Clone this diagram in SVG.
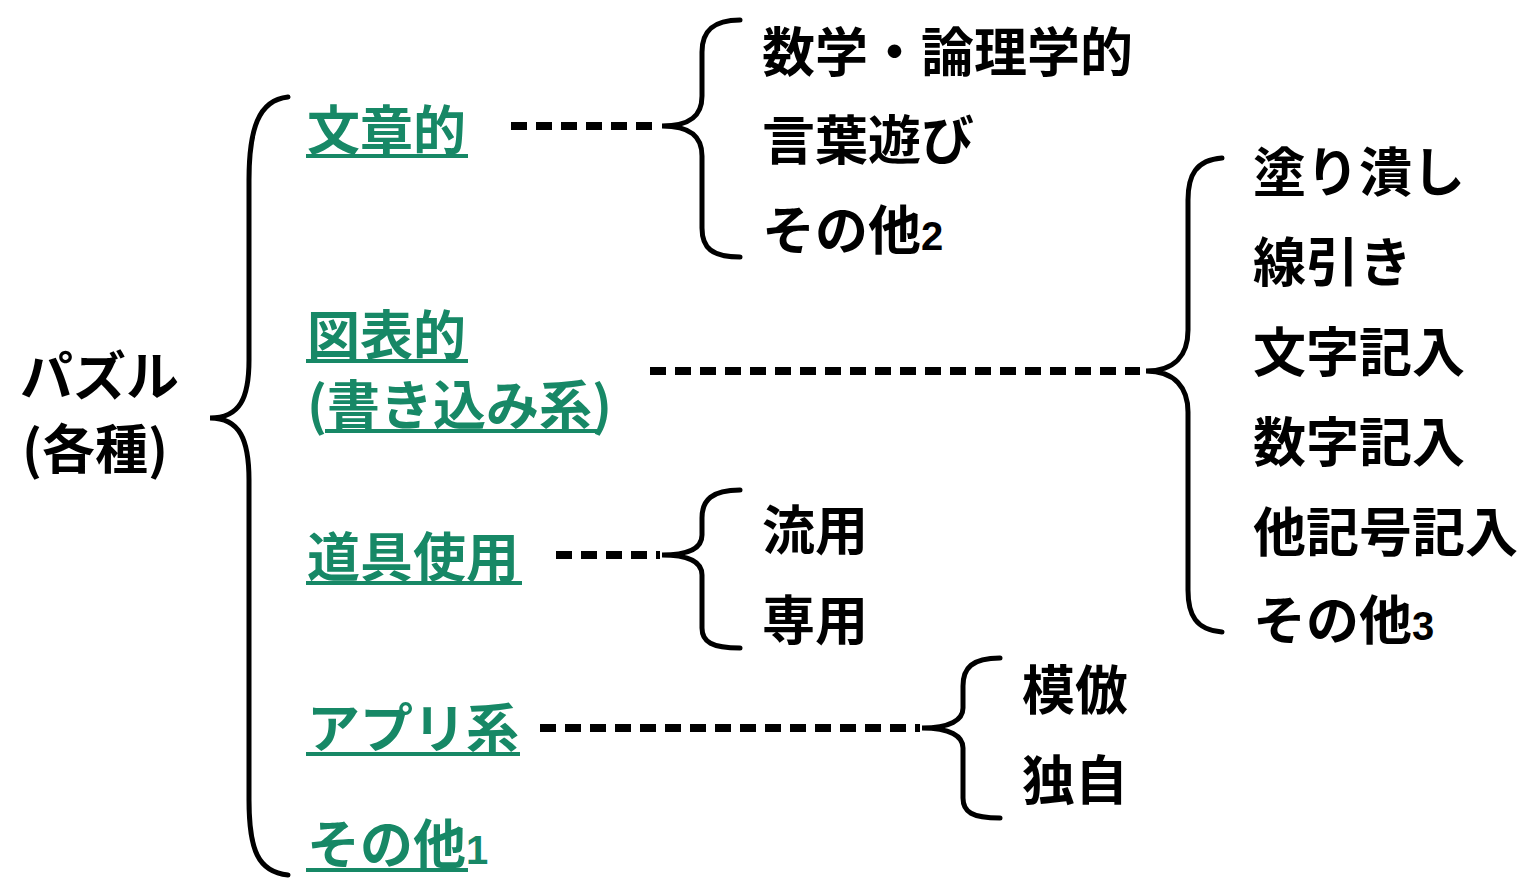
<svg xmlns="http://www.w3.org/2000/svg" width="1538" height="896" viewBox="0 0 1538 896">
<style>
text{font-family:"Noto Sans CJK JP","Liberation Sans",sans-serif;font-weight:bold;font-size:53px;fill:#000}
.g{fill:#178866}
.num{font-family:"Liberation Sans","Noto Sans CJK JP",sans-serif;font-size:40px}
.ul{fill:#178866}
.brace{fill:none;stroke:#000;stroke-width:5;stroke-linecap:round}
.dash{stroke:#000;stroke-width:8;stroke-dasharray:16 9;fill:none}
</style>
<rect width="1538" height="896" fill="#fff"/>
<g id="root"><text x="20" y="396" font-size="50">パズル</text><text x="22" y="469" font-size="50">(各種)</text></g>
<g id="n-bunsho"><text class="g" x="307" y="150">文章的</text><rect class="ul" x="306" y="154" width="162" height="4"/></g>
<g id="n-zuhyo"><text class="g"><tspan x="307" y="355">図表的</tspan><tspan x="307" y="425">(書き込み系)</tspan></text><rect class="ul" x="306" y="359" width="162" height="4"/><rect class="ul" x="325" y="429" width="272" height="4"/></g>
<g id="n-dogu"><text class="g" x="307" y="577">道具使用</text><rect class="ul" x="306" y="581" width="216" height="4"/></g>
<g id="n-appli"><text class="g" x="307" y="748">アプリ系</text><rect class="ul" x="306" y="752" width="214" height="4"/></g>
<g id="n-sonota1"><text class="g" x="307" y="864">その他<tspan class="num">1</tspan></text><rect class="ul" x="306" y="868" width="162" height="4"/></g>
<g id="c-bunsho"><text x="762" y="72">数学・論理学的</text><text x="762" y="160">言葉遊び</text><text x="762" y="250">その他<tspan class="num">2</tspan></text></g>
<g id="c-zuhyo"><text x="1253" y="192">塗り潰し</text><text x="1253" y="282">線引き</text><text x="1253" y="372">文字記入</text><text x="1253" y="462">数字記入</text><text x="1253" y="552">他記号記入</text><text x="1253" y="640">その他<tspan class="num">3</tspan></text></g>
<g id="c-dogu"><text x="762" y="550">流用</text><text x="762" y="640">専用</text></g>
<g id="c-appli"><text x="1022" y="710">模倣</text><text x="1022" y="800">独自</text></g>
<g id="connectors">
<path class="brace" d="M288,97 C258,100 249,130 249,180 L249,360 C249,398 240,418 210,418 C240,418 249,440 249,480 L249,800 C249,850 258,872 288,875"/>
<path class="brace" d="M740,20 C712,20 702,32 702,52 L702,96 C702,116 690,126 662,126 C690,126 702,136 702,156 L702,228 C702,248 712,257 740,257"/>
<path class="brace" d="M1222,158 C1196,160 1188,175 1188,200 L1188,330 C1188,355 1175,371 1146,371 C1175,371 1188,388 1188,412 L1188,590 C1188,615 1196,630 1222,632"/>
<path class="brace" d="M740,490 C712,490 702,500 702,518 L702,535 C702,548 690,555 662,555 C690,555 702,562 702,575 L702,628 C702,642 712,648 740,648"/>
<path class="brace" d="M1000,658 C972,658 963,668 963,686 L963,708 C963,720 950,728 922,728 C950,728 963,736 963,748 L963,798 C963,812 972,818 1000,818"/>
<line class="dash" x1="511" y1="126" x2="660" y2="126"/>
<line class="dash" x1="650" y1="371" x2="1140" y2="371"/>
<line class="dash" x1="556" y1="555" x2="660" y2="555"/>
<line class="dash" x1="540" y1="728" x2="920" y2="728"/>
</g>
</svg>
